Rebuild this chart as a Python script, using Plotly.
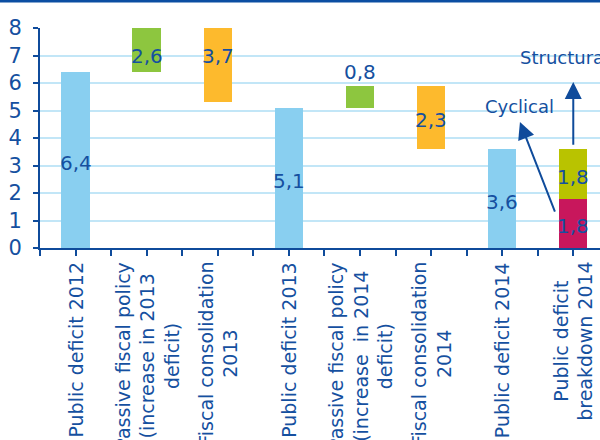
import plotly.graph_objects as go

# ---- data ----
categories = [
    "Public deficit 2012",
    "Passive fiscal policy<br>(increase in 2013<br>deficit)",
    "Fiscal consolidation<br>2013",
    "Public deficit 2013",
    "Passive fiscal policy<br>(increase  in 2014<br>deficit)",
    "Fiscal consolidation<br>2014",
    "Public deficit 2014",
    "Public deficit<br>breakdown 2014",
]
step_values = [6.4, 2.6, -3.7, 5.1, 0.8, -2.3, 3.6]
step_kinds = ["total", "relative", "relative", "total", "relative", "relative", "total"]
cyclical_2014 = 1.8
structural_2014 = 1.8
y_ticks = [0, 1, 2, 3, 4, 5, 6, 7, 8]

# ---- styles ----
BLUE_TXT = "#1550A0"
AXIS = "#0F4B9B"
GRID = "#C2E6F7"
C_TOTAL = "#89CFF0"
C_UP = "#8DC63F"
C_DOWN = "#FDBA2D"
C_CYC = "#C8175C"
C_STR = "#B9C300"
FONT = "DejaVu Sans"
Y_MAX = 8

def fmt(v):
    return f"{abs(v):.1f}".replace(".", ",")

# waterfall geometry
bases, heights, colors = [], [], []
level = 0.0
for v, k in zip(step_values, step_kinds):
    if k == "total":
        bases.append(0.0); heights.append(v); colors.append(C_TOTAL)
        level = v
    else:
        new = level + v
        bases.append(min(level, new)); heights.append(abs(v))
        colors.append(C_UP if v > 0 else C_DOWN)
        level = new

xs = list(range(len(step_values)))
fig = go.Figure()
fig.add_trace(go.Bar(x=xs, y=heights, base=bases, marker_color=colors,
                     width=0.4, marker_line_width=0, showlegend=False, hoverinfo="skip"))
bx = len(categories) - 1
fig.add_trace(go.Bar(x=[bx], y=[cyclical_2014], base=[0], marker_color=C_CYC,
                     width=0.4, marker_line_width=0, showlegend=False))
fig.add_trace(go.Bar(x=[bx], y=[structural_2014], base=[cyclical_2014], marker_color=C_STR,
                     width=0.4, marker_line_width=0, showlegend=False))

annotations = []
lab_font = dict(family=FONT, size=20, color=BLUE_TXT)
def add_label(x, lo, h, v):
    hi = lo + h
    if h < 1:
        annotations.append(dict(x=x, y=hi, xref="x", yref="y", text=fmt(v), showarrow=False,
                                yanchor="bottom", yshift=0, font=lab_font))
    else:
        y = min((lo + hi) / 2, Y_MAX - 0.9)
        annotations.append(dict(x=x, y=y, xref="x", yref="y", text=fmt(v), showarrow=False,
                                yanchor="middle", yshift=-3, font=lab_font))

for x, lo, h, v in zip(xs, bases, heights, step_values):
    add_label(x, lo, h, v)
add_label(bx, 0, cyclical_2014, cyclical_2014)
add_label(bx, cyclical_2014, structural_2014, structural_2014)

# category labels (rotated)
for i, c in enumerate(categories):
    annotations.append(dict(x=i, y=0, xref="x", yref="paper", text=c, showarrow=False,
                            textangle=-90, xanchor="center", yanchor="top", yshift=-12,
                            align="center", font=dict(family=FONT, size=19, color=BLUE_TXT)))

# breakdown arrows and notes
annotations.append(dict(x=6.25, y=4.58, ax=6.75, ay=1.27, xref="x", yref="y", axref="x", ayref="y",
                        text="", showarrow=True, arrowhead=2, arrowsize=1.7, arrowwidth=2,
                        arrowcolor=AXIS, standoff=0))
annotations.append(dict(x=bx, y=6.04, ax=bx, ay=3.7, xref="x", yref="y", axref="x", ayref="y",
                        text="", showarrow=True, arrowhead=2, arrowsize=1.7, arrowwidth=2,
                        arrowcolor=AXIS, standoff=0))
annotations.append(dict(x=6.24, y=5.13, xref="x", yref="y", text="Cyclical", showarrow=False,
                        xanchor="center", yanchor="middle",
                        font=dict(family=FONT, size=18, color=BLUE_TXT)))
annotations.append(dict(x=6.22, y=6.93, xref="x", yref="y", text="Structural", showarrow=False,
                        xanchor="left", yanchor="middle",
                        font=dict(family=FONT, size=18, color=BLUE_TXT)))

fig.update_layout(
    width=600, height=440,
    margin=dict(l=40, r=0, t=28, b=192),
    paper_bgcolor="white", plot_bgcolor="white",
    barmode="overlay", bargap=0,
    annotations=annotations,
    shapes=[dict(type="line", xref="paper", yref="paper", x0=-0.1, x1=1.1,
                 y0=1 + 27 / 220, y1=1 + 27 / 220, line=dict(color="#0B4EA2", width=3))],
    xaxis=dict(range=[-0.5, 7.376], showgrid=False, zeroline=False,
               showline=True, linecolor=AXIS, linewidth=2,
               tickvals=[i / 2 - 0.5 for i in range(16)], showticklabels=False,
               ticks="outside", ticklen=6, tickwidth=1.5, tickcolor=AXIS),
    yaxis=dict(range=[0, Y_MAX], tickvals=y_ticks, showgrid=True, gridcolor=GRID, gridwidth=2,
               zeroline=False, showline=True, linecolor=AXIS, linewidth=2,
               ticks="outside", ticklen=5, tickwidth=1.5, tickcolor=AXIS,
               ticklabelstandoff=7,
               tickfont=dict(family=FONT, size=21, color=BLUE_TXT)),
)

fig.write_html("out.html")
